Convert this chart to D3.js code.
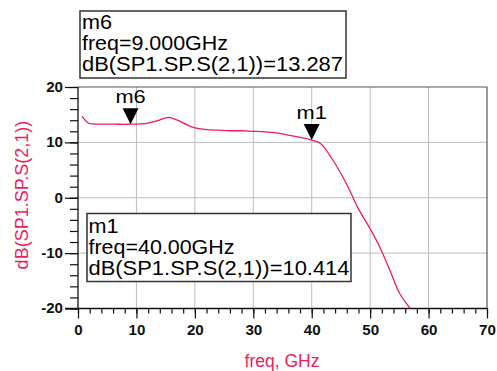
<!DOCTYPE html>
<html><head><meta charset="utf-8">
<script src="https://cdn.jsdelivr.net/npm/d3@7"></script>
<style>body{margin:0;background:#fff}svg{display:block}text{font-family:"Liberation Sans",Arial,sans-serif}</style>
</head><body>
<script>
const freq = [0.7,2,4,6,8,9,10,11.5,13.5,15.5,17,18.8,20,22,24,26,28,30,32,34,36,38,40,41.5,43.5,46,48,50,51.6,53.3,55,56.5,57.2];
const s21dB = [14.7,13.4,13.3,13.3,13.25,13.287,13.3,13.4,13.9,14.5,14.0,13.1,12.6,12.3,12.2,12.1,12.1,12.0,11.9,11.7,11.3,10.9,10.414,9.8,7.0,2.4,-2.0,-5.6,-8.8,-12.9,-17.2,-19.5,-20.6];
const xTicks = [0,10,20,30,40,50,60,70];
const yTicks = [20,10,0,-10,-20];
const markerNames = ["m6","m1"];
const markerFreq = [9,40];
const markerVal = [13.287,10.414];
const markerFreqText = ["9.000GHz","40.00GHz"];

const W=497,H=371, red="#ee1d5c";
const L=78,R=487,T=87,B=308.5;
const svg=d3.select("body").append("svg").attr("width",W).attr("height",H);
const x=d3.scaleLinear().domain([0,70]).range([L,R]);
const y=d3.scaleLinear().domain([-20,20]).range([B,T]);
function stretch(sel,k){sel.each(function(){const l=this.getComputedTextLength();d3.select(this).attr("textLength",l*k).attr("lengthAdjust","spacingAndGlyphs");});}

// grid
svg.append("g").selectAll("line").data(xTicks.filter(d=>d>0&&d<70)).join("line")
 .attr("x1",d=>x(d)).attr("x2",d=>x(d)).attr("y1",T).attr("y2",B).attr("stroke","#bdbdbd").attr("stroke-width",1);
svg.append("g").selectAll("line").data(yTicks.filter(d=>d>-20&&d<20)).join("line")
 .attr("y1",d=>y(d)).attr("y2",d=>y(d)).attr("x1",L).attr("x2",R).attr("stroke","#bdbdbd").attr("stroke-width",1);
// border top/right
svg.append("path").attr("d",`M${L},${T}H${R}V${B}`).attr("fill","none").attr("stroke","#555").attr("stroke-width",1.2);

// axes
const yAx=d3.axisLeft(y).tickValues(d3.range(-20,21,2)).tickSize(8).tickFormat("");
const gy=svg.append("g").attr("transform",`translate(${L},0)`).call(yAx);
const xAx=d3.axisBottom(x).tickValues(d3.range(0,71,2)).tickSize(5).tickFormat("");
const gx=svg.append("g").attr("transform",`translate(0,${B})`).call(xAx);
[gy,gx].forEach(g=>{g.select(".domain").remove();g.selectAll("line").attr("stroke","#111").attr("stroke-width",1.2);});
const fmt=d=>String(d);
const gyM=svg.append("g").attr("transform",`translate(${L},0)`).call(d3.axisLeft(y).tickValues(yTicks).tickSize(13).tickPadding(2).tickFormat(fmt));
const gxM=svg.append("g").attr("transform",`translate(0,${B})`).call(d3.axisBottom(x).tickValues(xTicks).tickSize(10).tickPadding(7).tickFormat(fmt));
[gyM,gxM].forEach(g=>{g.select(".domain").remove();g.selectAll("line").attr("stroke","#111").attr("stroke-width",1.2);
 g.attr("font-family",null).attr("font-size",null);
 g.selectAll("text").attr("fill","#111").style("font-size","14px").style("font-weight","bold").style("font-family","'Liberation Sans',Arial,sans-serif");
 stretch(g.selectAll("text"),1.08);});
svg.append("line").attr("x1",L).attr("x2",L).attr("y1",T).attr("y2",B).attr("stroke","#111").attr("stroke-width",1.3);
svg.append("line").attr("x1",L-13).attr("x2",R).attr("y1",B).attr("y2",B).attr("stroke","#111").attr("stroke-width",1.3);

// curve
svg.append("clipPath").attr("id","c").append("rect").attr("x",L).attr("y",T).attr("width",R-L).attr("height",B-T);
const pts=freq.map((f,i)=>[f,s21dB[i]]);
svg.append("path").datum(pts).attr("clip-path","url(#c)")
 .attr("d",d3.line().x(d=>x(d[0])).y(d=>y(d[1])).curve(d3.curveMonotoneX))
 .attr("fill","none").attr("stroke",red).attr("stroke-width",1.3);

// markers
markerNames.forEach((n,i)=>{
 const mx=x(markerFreq[i]), my=y(markerVal[i]);
 svg.append("path").attr("d",`M${mx},${my}L${mx-8},${my-16}L${mx+8},${my-16}Z`).attr("fill","#000");
 const t=svg.append("text").attr("x",mx).attr("y",my-21).attr("text-anchor","middle").style("font-size","18.5px").attr("fill","#000").text(n);
 stretch(t,1.18);
});

// marker boxes
const boxes=[{x:80,y:11,w:266,h:67,tx:82,by:28.5},{x:87,y:213.5,w:264,h:68,tx:88.5,by:232.5}];
[0,1].forEach(i=>{
 const b=boxes[i];
 svg.append("rect").attr("x",b.x).attr("y",b.y).attr("width",b.w).attr("height",b.h).attr("fill","#fff").attr("stroke","#333").attr("stroke-width",1.5);
 const lines=[markerNames[i],"freq="+markerFreqText[i],"dB(SP1.SP.S(2,1))="+markerVal[i].toFixed(3)];
 const lens=[30,146,261];
 lines.forEach((t,j)=>{
  svg.append("text").attr("x",b.tx).attr("y",b.by+j*21).style("font-size","20px").attr("fill","#000").text(t)
   .attr("textLength",lens[j]).attr("lengthAdjust","spacingAndGlyphs");
 });
});

// axis titles
svg.append("text").attr("transform","translate(27.5,195) rotate(-90)").attr("text-anchor","middle").style("font-size","18px").attr("fill",red).text("dB(SP1.SP.S(2,1))");
svg.append("text").attr("x",282).attr("y",367).attr("text-anchor","middle").style("font-size","17.5px").attr("fill",red).text("freq, GHz");
</script>
</body></html>
